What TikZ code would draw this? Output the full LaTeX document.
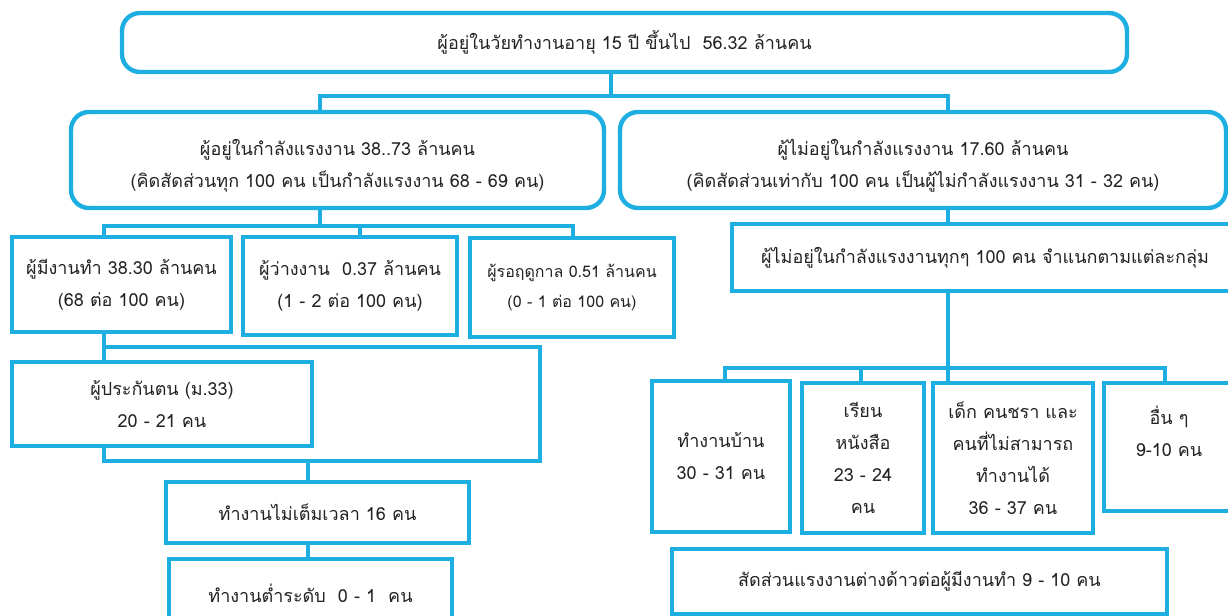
\documentclass[tikz,border=0pt]{standalone}
\usepackage{fontspec}
\newfontfamily\thaifont[Script=Thai]{Loma}
\definecolor{sky}{RGB}{29,174,226}
\definecolor{ink}{RGB}{35,35,35}
\begin{document}
\begin{tikzpicture}[x=0.5pt, y=0.5pt,
		box/.style={draw=sky, line width=2.2pt, fill=white, align=center, inner sep=0pt, text=ink, font=\thaifont\fontsize{9}{16}\selectfont},
		rbox/.style={box, rounded corners=9pt},
		small/.style={font=\thaifont\fontsize{8}{15}\selectfont},
		link/.style={draw=sky, line width=2pt, line cap=rect}]
		\useasboundingbox (0,0) rectangle (1228,-616);
		\node [rbox, minimum width=502.5pt, minimum height=29.5pt] (w) at (624.5,-42.5) {ผู้อยู่ในวัยทำงานอายุ 15 ปี ขึ้นไป~~56.32 ล้านคน};
		\node [rbox, minimum width=266.5pt, minimum height=48pt] (lf) at (337.5,-160) {\rule{0pt}{14pt}ผู้อยู่ในกำลังแรงงาน 38..73 ล้านคน\\(คิดสัดส่วนทุก 100 คน เป็นกำลังแรงงาน 68 - 69 คน)};
		\node [rbox, minimum width=303pt, minimum height=48pt] (nlf) at (923,-160) {\rule{0pt}{14pt}ผู้ไม่อยู่ในกำลังแรงงาน 17.60 ล้านคน\\(คิดสัดส่วนเท่ากับ 100 คน เป็นผู้ไม่กำลังแรงงาน 31 - 32 คน)};
		\node [box, minimum width=253pt, minimum height=33.5pt] (grp) at (985,-257.5) {ผู้ไม่อยู่ในกำลังแรงงานทุกๆ 100 คน จำแนกตามแต่ละกลุ่ม};
		\node [box, minimum width=109.5pt, minimum height=47.5pt] (emp) at (121.5,-284.5) {ผู้มีงานทำ 38.30 ล้านคน\\(68 ต่อ 100 คน)};
		\node [box, minimum width=107pt, minimum height=49pt] (unemp) at (350,-286) {ผู้ว่างงาน~~0.37 ล้านคน\\(1 - 2 ต่อ 100 คน)};
		\node [box, small, minimum width=102pt, minimum height=49.5pt] (seas) at (572,-287.5) {ผู้รอฤดูกาล 0.51 ล้านคน\\(0 - 1 ต่อ 100 คน)};
		\node [box, minimum width=150pt, minimum height=42pt] (ins) at (162,-404) {ผู้ประกันตน (ม.33)\\20 - 21 คน};
		\node [box, minimum width=151.5pt, minimum height=30.5pt] (part) at (317.5,-512.5) {ทำงานไม่เต็มเวลา 16 คน};
		\node [box, minimum width=141.5pt, minimum height=34pt] (under) at (310.5,-593) {ทำงานต่ำระดับ~~0 - 1~~คน};
		\node [box, minimum width=69pt, minimum height=75.5pt] (home) at (721,-456.5) {ทำงานบ้าน\\30 - 31 คน};
		\node [box, minimum width=61pt, minimum height=75pt] (study) at (863,-458) {เรียน\\หนังสือ\\23 - 24\\คน};
		\node [box, minimum width=80pt, minimum height=75pt] (old) at (1013,-458) {เด็ก คนชรา และ\\คนที่ไม่สามารถ\\ทำงานได้\\36 - 37 คน};
		\node [box, minimum width=65pt, minimum height=64pt] (other) at (1169,-447) {อื่น ๆ\\9-10 คน\\\mbox{}};
		\node [box, minimum width=247.5pt, minimum height=32.5pt] (alien) at (919.5,-581.5) {สัดส่วนแรงงานต่างด้าวต่อผู้มีงานทำ 9 - 10 คน};
		\coordinate (h0) at (611,-96);
		\coordinate (h1) at (320,-96);
		\coordinate (h2) at (948,-96);
		\draw [link] (h0 |- w.south) -- (h0);
		\draw [link] (h1 |- lf.north) -- (h1) -- (h2) -- (h2 |- nlf.north);
		\coordinate (h3) at (320,-226);
		\coordinate (h4) at (104,-226);
		\coordinate (h5) at (360,-226);
		\coordinate (h6) at (573,-226);
		\draw [link] (h3 |- lf.south) -- (h3);
		\draw [link] (h4 |- emp.north) -- (h4) -- (h6) -- (h6 |- seas.north);
		\draw [link] (h5) -- (h5 |- unemp.north);
		\coordinate (h7) at (104,-347);
		\coordinate (h8) at (540,-347);
		\coordinate (h9) at (540,-461);
		\coordinate (h10) at (104,-461);
		\coordinate (h11) at (308,-461);
		\draw [link] (h7 |- emp.south) -- (h7) -- (h8) -- (h9) -- (h10) -- (h10 |- ins.south);
		\draw [link] (h7) -- (h7 |- ins.north);
		\draw [link] (h11) -- (h11 |- part.north);
		\draw [link] (h11 |- part.south) -- (h11 |- under.north);
		\draw [link] (h2 |- nlf.south) -- (h2 |- grp.north);
		\coordinate (h12) at (948,-368);
		\coordinate (h13) at (725,-368);
		\coordinate (h14) at (1165,-368);
		\coordinate (h15) at (861,-368);
		\draw [link] (h12 |- grp.south) -- (h12);
		\draw [link] (h13 |- home.north) -- (h13) -- (h14) -- (h14 |- other.north);
		\draw [link] (h15) -- (h15 |- study.north);
		\draw [link] (h12) -- (h12 |- old.north);
	\end{tikzpicture}
\end{document}
